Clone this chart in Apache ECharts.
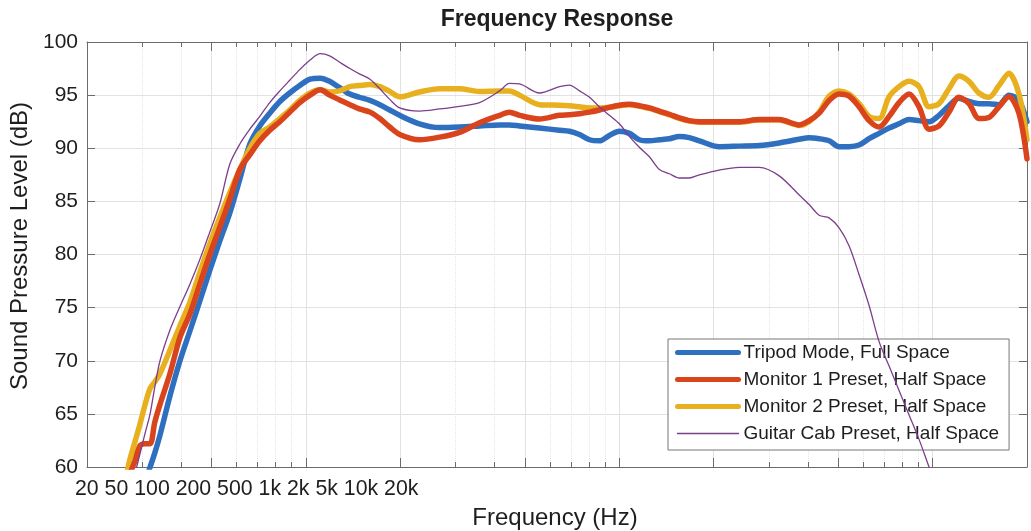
<!DOCTYPE html>
<html>
<head>
<meta charset="utf-8">
<title>Frequency Response</title>
<script src="https://cdn.jsdelivr.net/npm/echarts@6/dist/echarts.min.js"></script>
<style>
  html, body { margin: 0; padding: 0; background: #fff; }
  #chart { width: 1031px; height: 531px; }
</style>
</head>
<body>
<div id="chart"></div>
<script>
// shared frequency grid (Hz), log axis 20 Hz .. 20 kHz
const freqHz = [26.4, 27.4, 28.4, 29.5, 30.6, 31.8, 32.9, 34.2,
  36.8, 39.6, 42.6, 45.8, 49.3, 53.1, 57.1, 61.5, 66.2, 71.2, 76.6, 82.5, 88.7, 95.5,
  103, 111, 119, 128, 138, 148, 160, 172, 185, 199,
  230, 267, 309, 358, 415, 446, 480, 556, 644,
  693, 746, 803, 864, 929, 1000, 1077, 1158, 1247, 1342, 1444, 1554, 1672, 1800,
  2084, 2414, 2796, 3238, 3750,
  4034, 4343, 4672, 5028, 5412, 5823, 6267, 6745, 7259, 7812, 8406, 9047, 9736,
  10478, 11272, 12132, 13056, 14052, 15122, 16272, 17512, 18848, 20000];

// SPL in dB for each preset
const tripodFull = [null, null, null, null, 58.5, 60.0, 61.3, 63.0,
  66.7, 70.0, 72.8, 75.6, 78.5, 81.3, 83.9, 87.1, 90.4, 92.1, 93.3, 94.4, 95.2, 95.9,
  96.5, 96.6, 96.3, 95.7, 95.1, 94.8, 94.5, 94.1, 93.6, 93.1,
  92.3, 91.95, 92.0, 92.1, 92.2, 92.2, 92.1, 91.9, 91.7,
  91.6, 91.3, 90.8, 90.7, 91.2, 91.6, 91.4, 90.8, 90.7, 90.8, 90.9, 91.1, 91.0, 90.7,
  90.15, 90.2, 90.25, 90.5, 90.85,
  91.0, 90.9, 90.7, 90.15, 90.15, 90.3, 90.9, 91.4, 91.9, 92.3, 92.7, 92.6, 92.5,
  93.1, 94.0, 94.7, 94.4, 94.2, 94.2, 94.1, 95.0, 94.5, 92.5];

const monitor1Half = [57.0, 59.3, 60.5, 62.0, 62.2, 62.2, 64.2, 65.9,
  68.8, 72.2, 74.4, 77.2, 80.0, 82.6, 85.2, 88.0, 89.4, 90.7, 91.7, 92.5, 93.4, 94.3,
  95.0, 95.5, 95.0, 94.55, 94.1, 93.7, 93.4, 92.8, 92.0, 91.3,
  90.8, 91.05, 91.5, 92.4, 93.1, 93.4, 93.1, 92.75, 93.1,
  93.15, 93.25, 93.4, 93.6, 93.85, 94.05, 94.15, 94.0, 93.8, 93.5, 93.2, 92.85, 92.6, 92.5,
  92.5, 92.5, 92.7, 92.7, 92.2,
  92.6, 93.3, 94.5, 95.1, 94.9, 93.9, 92.6, 92.0, 93.0, 94.3, 95.1, 93.9, 91.8,
  92.1, 93.4, 94.8, 94.2, 92.8, 92.9, 93.9, 94.85, 93.3, 89.0];

const monitor2Half = [58.5, 60.7, 62.3, 64.0, 65.8, 67.4, 68.0, 68.8,
  71.0, 73.3, 75.5, 78.3, 81.0, 83.5, 85.8, 88.0, 90.0, 91.4, 92.0, 92.8, 93.6, 94.5,
  95.2, 95.5, 95.3, 95.4, 95.8, 95.9, 96.0, 95.8, 95.35, 94.85,
  95.3, 95.6, 95.6, 95.35, 95.4, 95.4, 95.0, 94.1, 94.05,
  94.0, 93.9, 93.8, 93.8, 93.85, 94.0, 94.1, 93.95, 93.75, 93.45, 93.15, 92.8, 92.55, 92.45,
  92.45, 92.45, 92.65, 92.65, 92.15,
  92.5, 93.4, 94.9, 95.4, 95.1, 94.2, 93.0, 92.8, 94.85, 95.8, 96.3, 95.8, 93.9,
  94.2, 95.6, 96.8, 96.3, 95.2, 94.8, 95.9, 97.05, 95.1, 90.8];

const guitarCabHalf = [null, null, 59.3, 61.2, 63.1, 65.0, 67.5, 70.0,
  72.9, 75.1, 77.2, 79.5, 82.1, 84.8, 88.5, 90.4, 91.8, 93.0, 94.3, 95.4, 96.4, 97.4,
  98.3, 98.9, 98.7, 98.1, 97.5, 97.0, 96.5, 95.6, 94.6, 93.8,
  93.5, 93.7, 93.95, 94.3, 95.4, 96.1, 96.05, 95.2, 95.8,
  95.95, 95.4, 94.8, 93.9, 93.1, 92.3, 91.1, 90.1, 89.2, 88.0, 87.6, 87.2, 87.2, 87.5,
  87.95, 88.2, 88.2, 87.4, 85.6,
  84.7, 83.7, 83.45, 82.5, 80.8, 78.1, 75.2, 71.8, 69.5, 67.2, 64.9, 62.6, 60.0,
  57.5, null, null, null, null, null, null, null, null, null];

const seriesNames = ['Tripod Mode, Full Space', 'Monitor 1 Preset, Half Space',
  'Monitor 2 Preset, Half Space', 'Guitar Cab Preset, Half Space'];
const majorTicksHz = [20, 50, 100, 200, 500, 1000, 2000, 5000, 10000, 20000];
const minorTicksHz = [30, 40, 60, 70, 80, 90, 300, 400, 600, 700, 800, 900,
  3000, 4000, 6000, 7000, 8000, 9000];
const freqTickLabels = ['20', '50', '100', '200', '500', '1k', '2k', '5k', '10k', '20k'];

const FONT = '"Liberation Sans", Arial, Helvetica, sans-serif';
const axisColor = '#6b6b6b';
const textColor = '#1e1e1e';
const colors = ['#2f6fc0', '#d9441c', '#e8b01e', '#7b3f8c'];
const widths = [5.5, 5.5, 5.5, 1.3];

const pairs = (vals) => freqHz.map((f, i) => [f, vals[i]]);

function freqAxis(gridIndex, position, ticks, tickLen, showLine, splitLine) {
  return {
    type: 'log', logBase: 10, gridIndex, position, min: 20, max: 20000,
    axisLine: { show: showLine, onZero: false, lineStyle: { color: axisColor, width: 1 } },
    axisTick: { show: true, inside: true, length: tickLen, customValues: ticks,
      lineStyle: { color: axisColor, width: 1 } },
    axisLabel: { show: false },
    minorTick: { show: false },
    splitLine: splitLine
  };
}

function line(idx, vals, z) {
  return {
    name: seriesNames[idx], type: 'line', data: pairs(vals), xAxisIndex: 0, yAxisIndex: 0,
    symbol: 'none', smooth: 0.3, z,
    lineStyle: { color: colors[idx], width: widths[idx], cap: 'round', join: 'round' },
    itemStyle: { color: colors[idx] }
  };
}

const chart = echarts.init(document.getElementById('chart'));
chart.setOption({
  animation: false,
  backgroundColor: '#fff',
  grid: [
    { left: 87, right: 4, top: 42, bottom: 64 },
    { left: 87, right: 4, top: 42, bottom: 64 }
  ],
  xAxis: [
    freqAxis(0, 'bottom', majorTicksHz, 9, true,
      { show: true, lineStyle: { color: '#e2e2e2', width: 1 } }),
    freqAxis(0, 'top', majorTicksHz, 9, true, { show: false }),
    freqAxis(1, 'bottom', minorTicksHz, 5, false,
      { show: true, lineStyle: { color: '#e6e6e6', width: 1, type: 'dotted' } }),
    freqAxis(1, 'top', minorTicksHz, 5, false, { show: false })
  ],
  yAxis: [
    {
      type: 'value', gridIndex: 0, position: 'left', min: 60, max: 100, interval: 5,
      axisLine: { show: true, lineStyle: { color: axisColor } },
      axisTick: { show: true, inside: true, length: 8, lineStyle: { color: axisColor } },
      axisLabel: { fontSize: 21, fontFamily: FONT, color: textColor, margin: 9 },
      splitLine: { show: true, lineStyle: { color: '#e2e2e2', width: 1 } }
    },
    {
      type: 'value', gridIndex: 0, position: 'right', min: 60, max: 100, interval: 5,
      axisLine: { show: true, lineStyle: { color: axisColor } },
      axisTick: { show: true, inside: true, length: 8, lineStyle: { color: axisColor } },
      axisLabel: { show: false },
      splitLine: { show: false }
    },
    { type: 'value', gridIndex: 1, min: 60, max: 100, show: false }
  ],
  legend: {
    data: seriesNames.map((name, i) => ({
      name, lineStyle: { width: widths[i] === 1.3 ? 1.3 : 5, color: colors[i] }
    })),
    orient: 'vertical', left: 668, top: 339,
    padding: [4, 10, 7, 7],
    itemWidth: 61, itemHeight: 20, itemGap: 8,
    itemStyle: { opacity: 0 },
    backgroundColor: '#fff', borderColor: '#777', borderWidth: 1,
    textStyle: { fontSize: 19, fontFamily: FONT, color: textColor },
    selectedMode: false
  },
  graphic: [
    { type: 'text', x: 557, y: 20, z: 10,
      style: { text: 'Frequency Response', fontSize: 23, fontWeight: 'bold', fontFamily: FONT,
        fill: textColor, align: 'center', verticalAlign: 'middle' } },
    { type: 'text', x: 75, y: 489, z: 10,
      style: { text: freqTickLabels.join(' '), fontSize: 21.3, fontFamily: FONT,
        fill: textColor, align: 'left', verticalAlign: 'middle' } },
    { type: 'text', x: 555, y: 518, z: 10,
      style: { text: 'Frequency (Hz)', fontSize: 24, fontFamily: FONT,
        fill: textColor, align: 'center', verticalAlign: 'middle' } },
    { type: 'text', x: 20, y: 246, rotation: Math.PI / 2, z: 10,
      style: { text: 'Sound Pressure Level (dB)', fontSize: 24, fontFamily: FONT,
        fill: textColor, align: 'center', verticalAlign: 'middle' } }
  ],
  series: [
    line(0, tripodFull, 2),
    line(2, monitor2Half, 3),
    line(1, monitor1Half, 4),
    line(3, guitarCabHalf, 5)
  ]
});

window.addEventListener('resize', () => chart.resize());
</script>
</body>
</html>
